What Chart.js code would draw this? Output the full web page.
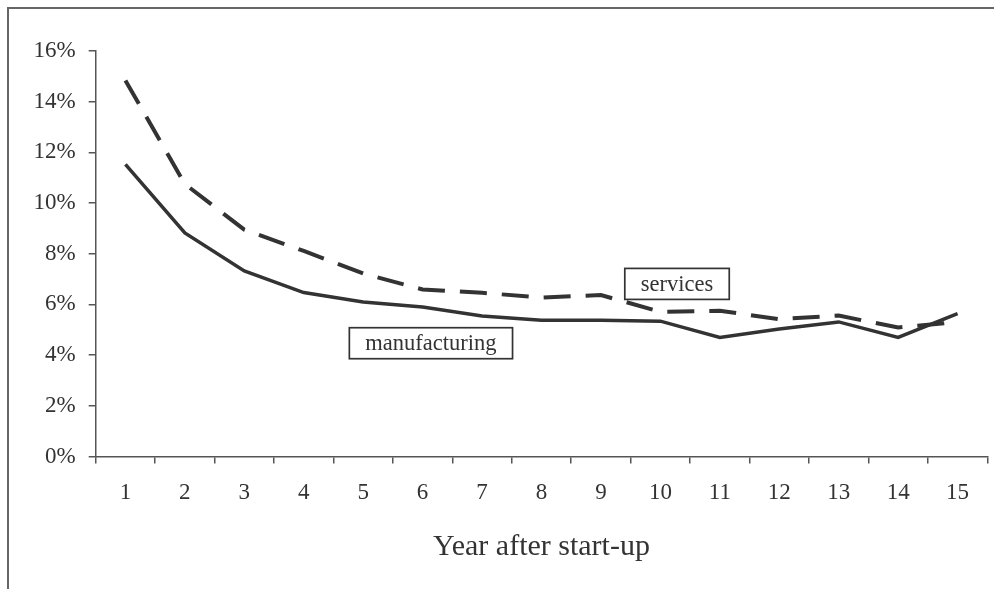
<!DOCTYPE html>
<html>
<head>
<meta charset="utf-8">
<script src="https://cdn.jsdelivr.net/npm/chart.js@4"></script>
<style>
html,body{margin:0;padding:0;background:#fff;}
#wrap{width:994px;height:589px;position:relative;}
</style>
</head>
<body>
<div id="wrap"><canvas id="c" width="994" height="589"></canvas></div>
<script>
const years = ['1','2','3','4','5','6','7','8','9','10','11','12','13','14','15'];
const manufacturing = [11.53, 8.82, 7.32, 6.47, 6.10, 5.90, 5.54, 5.38, 5.38, 5.34, 4.70, 5.03, 5.31, 4.70, 5.64];
const services = [14.84, 10.75, 8.95, 8.11, 7.22, 6.59, 6.46, 6.27, 6.37, 5.71, 5.75, 5.42, 5.56, 5.09, 5.31];
const yTicks = [0, 2, 4, 6, 8, 10, 12, 14, 16];
const seriesLabels = ['manufacturing', 'services'];
// label anchor positions in data space (category index, value %)
const labelAnchors = [[5.14, 4.47], [9.28, 6.81]];

const FONT = '"Liberation Serif", "Times New Roman", serif';
const INK = '#333333';
const AXIS = '#555555';

const framePlugin = {
  id: 'frame',
  afterDraw(chart) {
    const ctx = chart.ctx;
    ctx.save();
    ctx.strokeStyle = '#666666';
    ctx.lineWidth = 2;
    ctx.strokeRect(8, 8, 1200, 1200);
    ctx.restore();
  }
};

const boxLabels = {
  id: 'boxLabels',
  afterDatasetsDraw(chart) {
    const ctx = chart.ctx;
    const xs = chart.scales.x, ys = chart.scales.y;
    ctx.save();
    ctx.font = '22.5px ' + FONT;
    ctx.textAlign = 'center';
    ctx.textBaseline = 'middle';
    seriesLabels.forEach((txt, i) => {
      const cx = xs.getPixelForValue(labelAnchors[i][0]);
      const cy = ys.getPixelForValue(labelAnchors[i][1]);
      const w = ctx.measureText(txt).width + 32;
      const h = 31;
      ctx.fillStyle = '#ffffff';
      ctx.fillRect(cx - w / 2, cy - h / 2, w, h);
      ctx.strokeStyle = INK;
      ctx.lineWidth = 1.7;
      ctx.strokeRect(cx - w / 2, cy - h / 2, w, h);
      ctx.fillStyle = INK;
      ctx.fillText(txt, cx, cy + 1);
    });
    ctx.restore();
  }
};

new Chart(document.getElementById('c'), {
  type: 'line',
  data: {
    labels: years,
    datasets: [
      {
        label: 'manufacturing',
        data: manufacturing,
        borderColor: INK,
        borderWidth: 3.5,
        pointRadius: 0,
        tension: 0,
        fill: false
      },
      {
        label: 'services',
        data: services,
        borderColor: INK,
        borderWidth: 4,
        borderDash: [27, 15],
        pointRadius: 0,
        tension: 0,
        fill: false
      }
    ]
  },
  options: {
    responsive: false,
    animation: false,
    devicePixelRatio: 1,
    layout: { padding: { top: 51, right: 6.7, left: 0, bottom: 0 } },
    plugins: { legend: { display: false }, tooltip: { enabled: false } },
    scales: {
      x: {
        type: 'category',
        offset: true,
        grid: { offset: true, drawOnChartArea: false, drawTicks: true, tickLength: 7, color: AXIS, lineWidth: 1.5 },
        border: { display: true, color: AXIS, width: 1.5 },
        ticks: { color: INK, font: { family: FONT, size: 23 }, padding: 16, maxRotation: 0, autoSkip: false },
        title: { display: true, text: 'Year after start-up', color: INK, font: { family: FONT, size: 30 }, padding: { top: 0, bottom: 24 } },
        afterFit(scale) { scale.height = 132.5; }
      },
      y: {
        min: 0, max: 16,
        afterBuildTicks(scale) { scale.ticks = yTicks.map(v => ({ value: v })); },
        grid: { drawOnChartArea: false, drawTicks: true, tickLength: 7, color: AXIS, lineWidth: 1.5 },
        border: { display: true, color: AXIS, width: 1.5 },
        ticks: { color: INK, font: { family: FONT, size: 23 }, padding: 13, callback: v => v + '%' },
        afterFit(scale) { scale.width = 95.7; }
      }
    }
  },
  plugins: [framePlugin, boxLabels]
});
</script>
</body>
</html>
